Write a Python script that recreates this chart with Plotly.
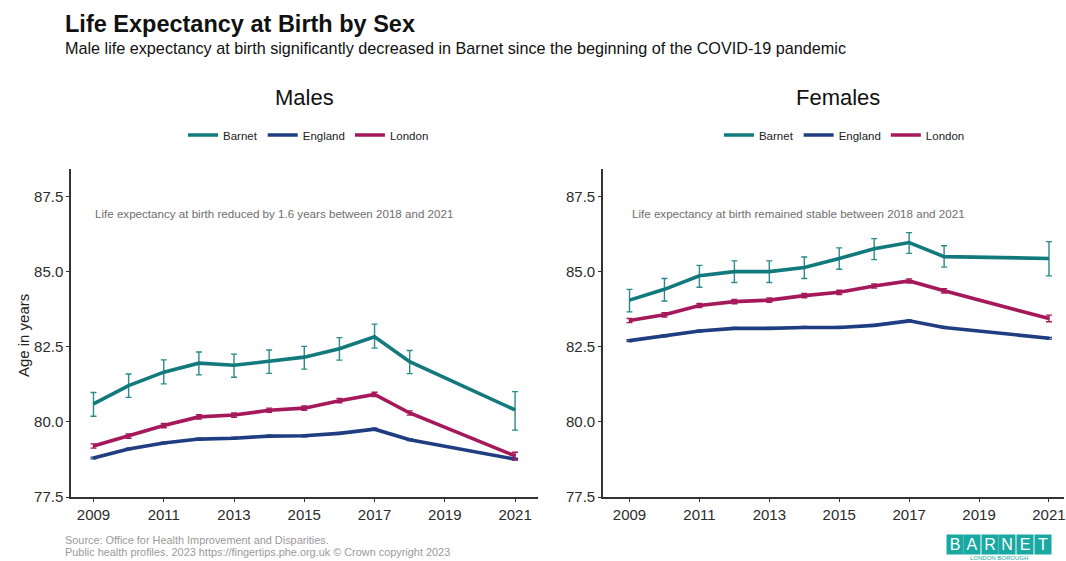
import plotly.graph_objects as go

# ---------------- data ----------------
years = [2009, 2010, 2011, 2012, 2013, 2014, 2015, 2016, 2017, 2018, 2021]
tick_years = [2009, 2011, 2013, 2015, 2017, 2019, 2021]
y_ticks = [77.5, 80.0, 82.5, 85.0, 87.5]
area_names = ["Barnet", "England", "London"]

male_barnet = [80.60, 81.21, 81.66, 81.96, 81.89, 82.03, 82.16, 82.44, 82.84, 82.01, 80.40]
male_barnet_lo = [80.19, 80.82, 81.27, 81.57, 81.49, 81.62, 81.76, 82.06, 82.46, 81.61, 79.73]
male_barnet_hi = [80.98, 81.60, 82.07, 82.33, 82.26, 82.40, 82.52, 82.81, 83.26, 82.38, 81.01]
male_england = [78.80, 79.10, 79.30, 79.43, 79.46, 79.53, 79.54, 79.62, 79.76, 79.41, 78.76]
male_england_lo = [78.77, 79.07, 79.27, 79.40, 79.43, 79.50, 79.51, 79.59, 79.73, 79.38, 78.73]
male_england_hi = [78.83, 79.13, 79.33, 79.46, 79.49, 79.56, 79.57, 79.65, 79.79, 79.44, 78.79]
male_london = [79.20, 79.53, 79.88, 80.17, 80.23, 80.39, 80.46, 80.71, 80.92, 80.30, 78.87]
male_london_lo = [79.13, 79.46, 79.81, 80.10, 80.16, 80.32, 80.39, 80.64, 80.85, 80.23, 78.75]
male_london_hi = [79.27, 79.60, 79.95, 80.24, 80.30, 80.46, 80.53, 80.78, 80.99, 80.37, 78.99]

female_barnet = [84.06, 84.42, 84.87, 85.01, 85.01, 85.15, 85.45, 85.77, 85.98, 85.51, 85.45]
female_barnet_lo = [83.67, 84.03, 84.49, 84.65, 84.65, 84.78, 85.09, 85.41, 85.62, 85.16, 84.87]
female_barnet_hi = [84.42, 84.78, 85.22, 85.37, 85.37, 85.50, 85.80, 86.11, 86.31, 85.87, 86.01]
female_england = [82.71, 82.87, 83.03, 83.12, 83.12, 83.15, 83.15, 83.22, 83.37, 83.15, 82.79]
female_england_lo = [82.68, 82.84, 83.00, 83.09, 83.09, 83.12, 83.12, 83.19, 83.34, 83.12, 82.76]
female_england_hi = [82.74, 82.90, 83.06, 83.15, 83.15, 83.18, 83.18, 83.25, 83.40, 83.18, 82.82]
female_london = [83.38, 83.57, 83.88, 84.01, 84.06, 84.21, 84.32, 84.53, 84.70, 84.37, 83.45]
female_london_lo = [83.31, 83.50, 83.81, 83.94, 83.99, 84.14, 84.25, 84.46, 84.63, 84.30, 83.34]
female_london_hi = [83.45, 83.64, 83.95, 84.08, 84.13, 84.28, 84.39, 84.60, 84.77, 84.44, 83.56]

title_text = "Life Expectancy at Birth by Sex"
subtitle_text = ("Male life expectancy at birth significantly decreased in Barnet since "
                 "the beginning of the COVID-19 pandemic")
panel_titles = ["Males", "Females"]
panel_notes = ["Life expectancy at birth reduced by 1.6 years between 2018 and 2021",
               "Life expectancy at birth remained stable between 2018 and 2021"]
y_title = "Age in years"
source_lines = ["Source: Office for Health Improvement and Disparities.",
                "Public health profiles. 2023 https://fingertips.phe.org.uk \u00a9 Crown copyright 2023"]
logo_letters = ["B", "A", "R", "N", "E", "T"]
logo_sub = "LONDON BOROUGH"

# ---------------- styling ----------------
COLORS = {"Barnet": "#12797C", "England": "#1F3E82", "London": "#A5195A"}
ERR_COLORS = {"Barnet": "#2A8A8C", "England": "#1F3E82", "London": "#A5195A"}
FONT = "Liberation Sans, Arial, Helvetica, sans-serif"

W, H = 1066, 561
PLOT_L, PLOT_T, PLOT_B = 71, 169, 497   # pixel coordinates in the window
ML, MR = PLOT_L, 0
MT, MB = PLOT_T, H - PLOT_B
PW = W - ML - MR
PH = H - MT - MB


def px_x(x_page):
    return (x_page - PLOT_L) / PW


def px_y(y_page):
    return (PLOT_B - y_page) / PH


fig = go.Figure()

panels = [
    ("x", "y", "legend",
     {"Barnet": (male_barnet, male_barnet_lo, male_barnet_hi),
      "England": (male_england, male_england_lo, male_england_hi),
      "London": (male_london, male_london_lo, male_london_hi)}),
    ("x2", "y2", "legend2",
     {"Barnet": (female_barnet, female_barnet_lo, female_barnet_hi),
      "England": (female_england, female_england_lo, female_england_hi),
      "London": (female_london, female_london_lo, female_london_hi)}),
]

for xa, ya, leg, series in panels:
    for name in area_names:
        vals, lo, hi = series[name]
        fig.add_trace(go.Scatter(
            x=years, y=vals, name=name, mode="lines",
            line=dict(color=COLORS[name], width=3.6),
            error_y=dict(type="data", symmetric=False,
                         array=[h - v for h, v in zip(hi, vals)],
                         arrayminus=[v - l for v, l in zip(vals, lo)],
                         color=ERR_COLORS[name], thickness=1.4, width=3),
            xaxis=xa, yaxis=ya, legend=leg,
        ))

axis_common = dict(
    showline=True, linecolor="#333333", linewidth=1.5,
    ticks="outside", ticklen=3, tickwidth=1, tickcolor="#333333",
    showgrid=False, zeroline=False, ticklabeloverflow="allow",
    tickfont=dict(family=FONT, size=15, color="#2b2b2b"),
)

fig.update_layout(
    width=W, height=H,
    margin=dict(l=ML, r=MR, t=MT, b=MB),
    paper_bgcolor="white", plot_bgcolor="white",
    font=dict(family=FONT),
    showlegend=True,
    xaxis=dict(domain=[0, px_x(538.5)], range=[2008.36, 2021.64],
               tickvals=tick_years, **axis_common),
    yaxis=dict(range=[77.5, 88.43], tickvals=y_ticks,
               tickformat=".1f", **axis_common),
    xaxis2=dict(domain=[px_x(604), 1], range=[2008.24, 2021.43],
                tickvals=tick_years, anchor="y2", **axis_common),
    yaxis2=dict(range=[77.5, 88.43], tickvals=y_ticks,
                tickformat=".1f", anchor="x2", **axis_common),
    legend=dict(orientation="h", x=px_x(309), xanchor="center",
                y=px_y(135), yanchor="middle",
                font=dict(family=FONT, size=11.5, color="#222222"),
                itemwidth=30, tracegroupgap=0, bgcolor="rgba(0,0,0,0)"),
    legend2=dict(orientation="h", x=px_x(846), xanchor="center",
                 y=px_y(135), yanchor="middle",
                 font=dict(family=FONT, size=11.5, color="#222222"),
                 itemwidth=30, tracegroupgap=0, bgcolor="rgba(0,0,0,0)"),
)

ann = []
# title & subtitle
ann.append(dict(text="<b>" + title_text + "</b>", x=px_x(63), y=px_y(24),
                xanchor="left", yanchor="middle",
                font=dict(family=FONT, size=23.5, color="#111111")))
ann.append(dict(text=subtitle_text, x=px_x(63), y=px_y(48),
                xanchor="left", yanchor="middle",
                font=dict(family=FONT, size=16.2, color="#111111")))
# panel titles
for t, cx in zip(panel_titles, [305, 840]):
    ann.append(dict(text=t, x=px_x(cx), y=px_y(97), xanchor="center", yanchor="middle",
                    font=dict(family=FONT, size=22, color="#111111")))
# panel notes
for t, lx in zip(panel_notes, [93, 631]):
    ann.append(dict(text=t, x=px_x(lx), y=px_y(213), xanchor="left", yanchor="middle",
                    font=dict(family=FONT, size=11.6, color="#6e6e6e")))
# y title
ann.append(dict(text=y_title, textangle=-90, x=px_x(23), y=px_y(336),
                xanchor="center", yanchor="middle",
                font=dict(family=FONT, size=15, color="#222222")))
# source
for t, yy in zip(source_lines, [540, 552]):
    ann.append(dict(text=t, x=px_x(63), y=px_y(yy), xanchor="left", yanchor="middle",
                    font=dict(family=FONT, size=10.9, color="#9a9a9a")))
# logo
for i, letter in enumerate(logo_letters):
    cx = 956.5 + i * 17.6
    ann.append(dict(text=letter, x=px_x(cx), y=px_y(544.5), xanchor="center",
                    yanchor="middle", width=16, height=19, borderpad=0,
                    bgcolor="#19A8A2",
                    font=dict(family=FONT, size=16, color="white")))
ann.append(dict(text=logo_sub, x=px_x(1001), y=px_y(557.5), xanchor="center",
                yanchor="middle", font=dict(family=FONT, size=6, color="#19A8A2")))

for a in ann:
    a.update(xref="paper", yref="paper", showarrow=False)
fig.update_layout(annotations=ann)

fig.write_html(
    "out.html",
    config={"displayModeBar": False},
    post_script="document.body.style.margin='0';document.body.style.overflow='hidden';",
)
